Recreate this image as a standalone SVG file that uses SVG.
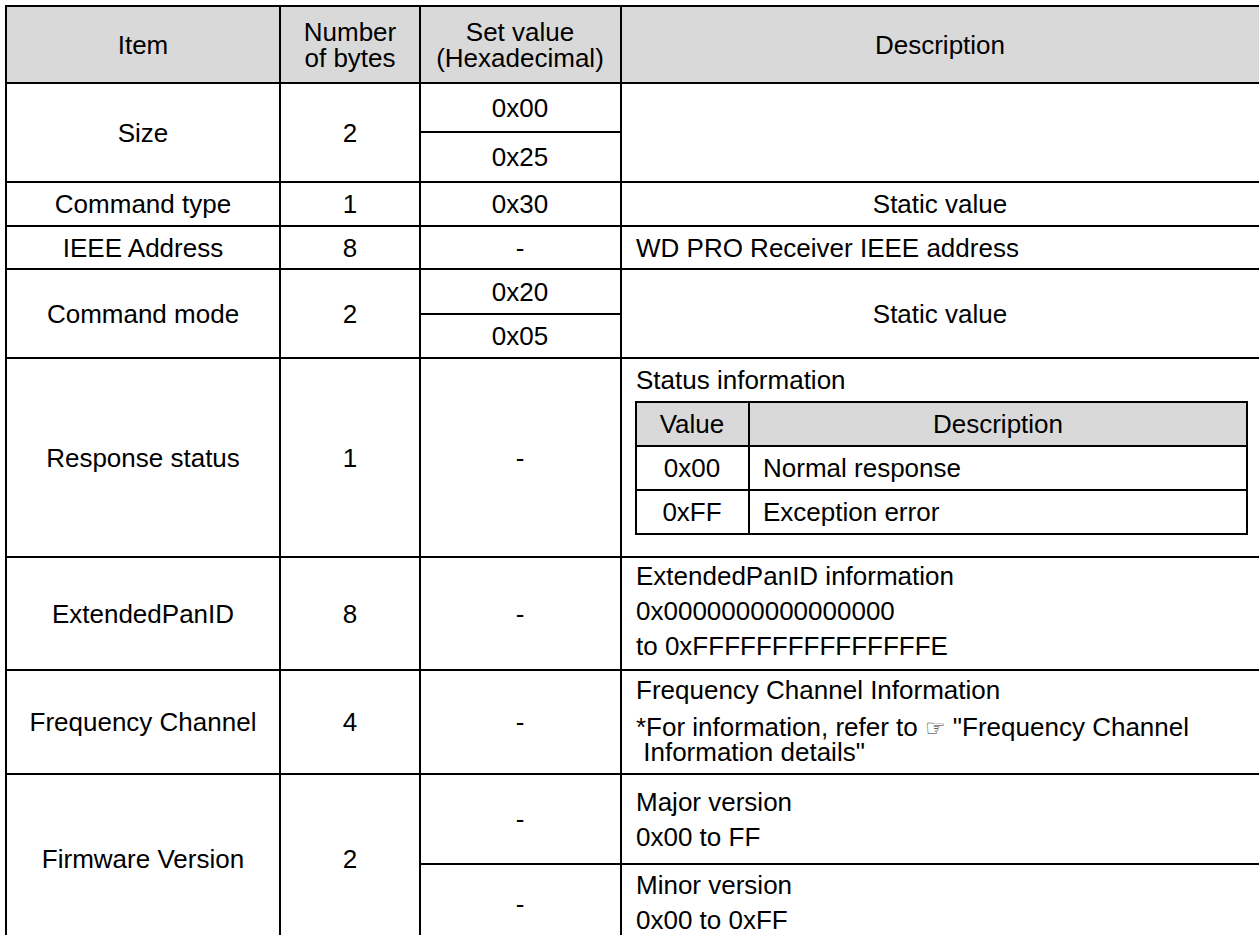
<svg xmlns="http://www.w3.org/2000/svg" width="1259" height="935" viewBox="0 0 1259 935">
  <style>
    text { font-family: "Liberation Sans", Arial, sans-serif; font-size: 26px; fill: #000; }
    .c { text-anchor: middle; }
    .grid line { stroke: #000; stroke-width: 2; }
    .hdr { fill: #d9d9d9; }
    .hand { font-family: "DejaVu Sans", sans-serif; font-size: 23px; fill: #333; }
  </style>

  <!-- page background -->
  <rect x="0" y="0" width="1259" height="935" fill="#fff"/>

  <!-- header shading -->
  <rect class="hdr" x="6" y="6" width="1256" height="77"/>
  <rect class="hdr" x="636" y="402" width="611" height="44"/>

  <!-- table rules -->
  <g id="grid" class="grid">
    <!-- columns -->
    <line x1="6" y1="5" x2="6" y2="940"/>
    <line x1="280" y1="6" x2="280" y2="940"/>
    <line x1="420" y1="6" x2="420" y2="940"/>
    <line x1="621" y1="6" x2="621" y2="940"/>
    <!-- full-width rows -->
    <line x1="5" y1="6" x2="1262" y2="6"/>
    <line x1="5" y1="83" x2="1262" y2="83"/>
    <line x1="5" y1="182" x2="1262" y2="182"/>
    <line x1="5" y1="226" x2="1262" y2="226"/>
    <line x1="5" y1="269" x2="1262" y2="269"/>
    <line x1="5" y1="358" x2="1262" y2="358"/>
    <line x1="5" y1="557" x2="1262" y2="557"/>
    <line x1="5" y1="670" x2="1262" y2="670"/>
    <line x1="5" y1="774" x2="1262" y2="774"/>
    <!-- split cells -->
    <line x1="420" y1="132" x2="621" y2="132"/>
    <line x1="420" y1="314" x2="621" y2="314"/>
    <line x1="420" y1="864" x2="1262" y2="864"/>
    <!-- nested status table -->
    <line x1="635" y1="402" x2="1248" y2="402"/>
    <line x1="635" y1="446" x2="1248" y2="446"/>
    <line x1="635" y1="490" x2="1248" y2="490"/>
    <line x1="635" y1="534" x2="1248" y2="534"/>
    <line x1="636" y1="402" x2="636" y2="534"/>
    <line x1="749" y1="402" x2="749" y2="534"/>
    <line x1="1247" y1="402" x2="1247" y2="534"/>
  </g>

  <g id="header">
    <text class="c" x="143" y="54">Item</text>
    <text class="c" x="350" y="41">Number</text>
    <text class="c" x="350" y="67">of bytes</text>
    <text class="c" x="520" y="41">Set value</text>
    <text class="c" x="520" y="67">(Hexadecimal)</text>
    <text class="c" x="940" y="54">Description</text>
  </g>

  <g id="row-size">
    <text class="c" x="143" y="142">Size</text>
    <text class="c" x="350" y="142">2</text>
    <text class="c" x="520" y="117">0x00</text>
    <text class="c" x="520" y="166">0x25</text>
  </g>

  <g id="row-command-type">
    <text class="c" x="143" y="213">Command type</text>
    <text class="c" x="350" y="213">1</text>
    <text class="c" x="520" y="213">0x30</text>
    <text class="c" x="940" y="213">Static value</text>
  </g>

  <g id="row-ieee-address">
    <text class="c" x="143" y="257">IEEE Address</text>
    <text class="c" x="350" y="257">8</text>
    <text class="c" x="520" y="257">-</text>
    <text x="636" y="257">WD PRO Receiver IEEE address</text>
  </g>

  <g id="row-command-mode">
    <text class="c" x="143" y="323">Command mode</text>
    <text class="c" x="350" y="323">2</text>
    <text class="c" x="520" y="301">0x20</text>
    <text class="c" x="520" y="345">0x05</text>
    <text class="c" x="940" y="323">Static value</text>
  </g>

  <g id="row-response-status">
    <text class="c" x="143" y="467">Response status</text>
    <text class="c" x="350" y="467">1</text>
    <text class="c" x="520" y="467">-</text>
    <text x="636" y="389">Status information</text>
    <text class="c" x="692" y="433">Value</text>
    <text class="c" x="998" y="433">Description</text>
    <text class="c" x="692" y="477">0x00</text>
    <text x="763" y="477">Normal response</text>
    <text class="c" x="692" y="521">0xFF</text>
    <text x="763" y="521">Exception error</text>
  </g>

  <g id="row-extended-pan-id">
    <text class="c" x="143" y="623">ExtendedPanID</text>
    <text class="c" x="350" y="623">8</text>
    <text class="c" x="520" y="623">-</text>
    <text x="636" y="585">ExtendedPanID information</text>
    <text x="636" y="620">0x0000000000000000</text>
    <text x="636" y="655">to 0xFFFFFFFFFFFFFFFE</text>
  </g>

  <g id="row-frequency-channel">
    <text class="c" x="143" y="731">Frequency Channel</text>
    <text class="c" x="350" y="731">4</text>
    <text class="c" x="520" y="731">-</text>
    <text x="636" y="699">Frequency Channel Information</text>
    <text x="636" y="736">*For information, refer to <tspan class="hand">☞</tspan> "Frequency Channel</text>
    <text x="636" y="761" xml:space="preserve"> Information details"</text>
  </g>

  <g id="row-firmware-version">
    <text class="c" x="143" y="868">Firmware Version</text>
    <text class="c" x="350" y="868">2</text>
    <text class="c" x="520" y="828">-</text>
    <text x="636" y="811">Major version</text>
    <text x="636" y="846">0x00 to FF</text>
    <text class="c" x="520" y="913">-</text>
    <text x="636" y="894">Minor version</text>
    <text x="636" y="929">0x00 to 0xFF</text>
  </g>
</svg>
